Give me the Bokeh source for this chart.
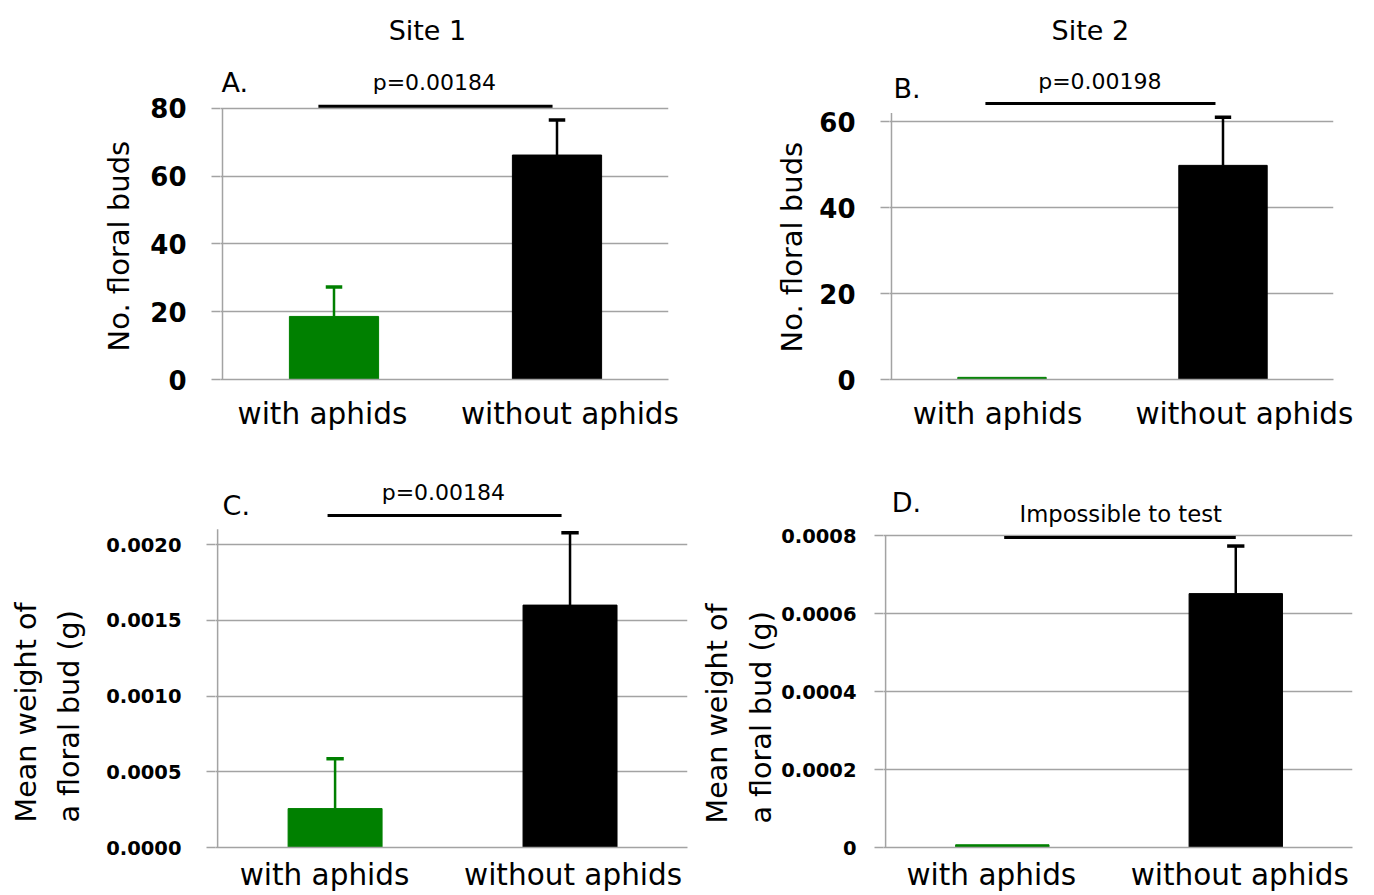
import math
from bokeh.plotting import figure
from bokeh.models import Range1d, FixedTicker, Label, Title
from bokeh.layouts import row, column
from bokeh.embed import file_html
from bokeh.resources import INLINE
from bokeh.core.properties import value

# ---------------- data ----------------
categories = ["with aphids", "without aphids"]
bar_colors = ["#008000", "#000000"]

buds_site1 = [18.6, 66.2]
buds_site1_err = [8.7, 10.3]
buds_site2 = [0.5, 49.8]
buds_site2_err = [0.0, 11.2]
weight_site1 = [0.000257, 0.00160]
weight_site1_err = [0.000329, 0.000477]
weight_site2 = [0.000007, 0.000651]
weight_site2_err = [0.0, 0.000122]

ticks_a = [0, 20, 40, 60, 80]
labels_a = ["0", "20", "40", "60", "80"]
ticks_b = [0, 20, 40, 60]
labels_b = ["0", "20", "40", "60"]
ticks_c = [0, 0.0005, 0.0010, 0.0015, 0.0020]
labels_c = ["0.0000", "0.0005", "0.0010", "0.0015", "0.0020"]
ticks_d = [0, 0.0002, 0.0004, 0.0006, 0.0008]
labels_d = ["0", "0.0002", "0.0004", "0.0006", "0.0008"]

site_titles = ["Site 1", "Site 2"]
panel_letters = ["A.", "B.", "C.", "D."]
test_texts = ["p=0.00184", "p=0.00198", "p=0.00184", "Impossible to test"]
ylabel_buds = "No. floral buds"
ylabel_weight = ["Mean weight of", "a floral bud (g)"]

FONT = "DejaVu Sans"
GRID = "#a3a3a3"


def panel(width, height, borders, x_start, y_end, vals, errs, ticks, tlabels,
          tick_size, axis_top, cat_pos, cat_standoff, tick_standoff):
    bl, br, bt, bb = borders
    p = figure(width=width, height=height, output_backend="svg",
               toolbar_location=None, tools="",
               x_range=Range1d(x_start, 1.5), y_range=Range1d(0, y_end),
               min_border_left=bl, min_border_right=br,
               min_border_top=bt, min_border_bottom=bb)
    p.outline_line_color = None
    p.background_fill_color = "white"
    p.border_fill_color = "white"
    xs = list(range(len(categories)))
    p.vbar(x=xs, top=vals, width=0.4, fill_color=bar_colors,
           line_color=bar_colors, line_width=1)
    # error bars (upper only)
    ex = [x for x, e in zip(xs, errs) if e > 0]
    ev = [v for v, e in zip(vals, errs) if e > 0]
    ee = [v + e for v, e in zip(vals, errs) if e > 0]
    ec = [c for c, e in zip(bar_colors, errs) if e > 0]
    p.segment(x0=ex, y0=ev, x1=ex, y1=ee, line_color=ec, line_width=2.5)
    cap = 0.037
    p.segment(x0=[x - cap for x in ex], y0=ee, x1=[x + cap for x in ex], y1=ee,
              line_color=ec, line_width=3.5)
    # vertical axis line
    p.segment(x0=[-0.5], y0=[0], x1=[-0.5], y1=[axis_top], line_color=GRID,
              line_width=1.5)

    p.xgrid.visible = False
    p.ygrid.grid_line_color = GRID
    p.ygrid.grid_line_width = 1.5

    xa = p.xaxis[0]
    xa.ticker = FixedTicker(ticks=cat_pos)
    xa.major_label_overrides = dict(zip(cat_pos, categories))
    xa.major_tick_line_color = None
    xa.minor_tick_line_color = None
    xa.axis_line_color = GRID
    xa.axis_line_width = 1.5
    xa.major_label_text_font = FONT
    xa.major_label_text_font_size = "29.5px"
    xa.major_label_text_color = "black"
    xa.major_label_standoff = cat_standoff

    ya = p.yaxis[0]
    ya.ticker = FixedTicker(ticks=ticks)
    ya.major_label_overrides = dict(zip(ticks, tlabels))
    ya.axis_line_color = None
    ya.major_tick_out = 9
    ya.major_tick_in = 0
    ya.major_tick_line_color = GRID
    ya.major_tick_line_width = 1.5
    ya.minor_tick_line_color = None
    ya.major_label_text_font = FONT
    ya.major_label_text_font_style = "bold"
    ya.major_label_text_font_size = tick_size
    ya.major_label_text_color = "black"
    ya.major_label_standoff = tick_standoff
    return p


def txt(p, x, y, text, size, align="center"):
    p.add_layout(Label(x=x, y=y, text=text, text_font=FONT,
                       text_font_size=size, text_color="black",
                       text_align=align, text_baseline="middle"))


def ytitle(p, text, offset, standoff, size="29px"):
    p.add_layout(Title(text=text, align="left", offset=offset,
                       text_font=FONT, text_font_size=size,
                       text_font_style="normal", text_color="black",
                       standoff=standoff), "left")


def label_fig(width, height, y_range, lines, xs, y0, size):
    # narrow companion figure that holds the two-line y-axis title;
    # it shares the panel's y range so the text lines up with its scale
    f = figure(width=width, height=height, output_backend="svg",
               toolbar_location=None, tools="",
               x_range=Range1d(0, width), y_range=y_range,
               x_axis_type=None, y_axis_type=None, min_border=0)
    f.outline_line_color = None
    f.grid.visible = False
    f.text(x=xs, y=[y0] * len(lines), text=lines, angle=math.pi / 2,
           text_align="left", text_baseline="middle",
           text_font=value(FONT), text_font_size=value(size),
           text_color="black")
    return f


def sigline(p, x0, x1, y):
    p.segment(x0=[x0], y0=[y], x1=[x1], y1=[y], line_color="black",
              line_width=3)


# ---------- Panel A ----------
pA = panel(688, 448, (220, 20, 12, 68), -0.509, 108.24, buds_site1,
           buds_site1_err, ticks_a, labels_a, "26px", 80,
           [-0.052, 1.058], 11, 25)
txt(pA, 0.419, 102.9, site_titles[0], "27px")
txt(pA, -0.505, 87.6, panel_letters[0], "27px", align="left")
sigline(pA, -0.07, 0.98, 80.6)
txt(pA, 0.45, 87.6, test_texts[0], "22px")
ytitle(pA, ylabel_buds, 28, 24)

# ---------- Panel B ----------
pB = panel(684, 448, (201, 39, 12, 69), -0.509, 85.35, buds_site2,
           buds_site2_err, ticks_b, labels_b, "26px", 62,
           [-0.02, 1.097], 11, 25)
txt(pB, 0.40, 81.2, site_titles[1], "27px")
txt(pB, -0.491, 67.7, panel_letters[1], "27px", align="left")
sigline(pB, -0.075, 0.966, 64.2)
txt(pB, 0.443, 69.3, test_texts[1], "22px")
ytitle(pB, ylabel_buds, 27, 16)

# ---------- Panel C ----------
pC = panel(588, 446, (115, 1, 2, 46), -0.509, 0.0026205, weight_site1,
           weight_site1_err, ticks_c, labels_c, "19.5px", 0.0021,
           [-0.045, 1.013], 4, 25)
txt(pC, -0.479, 0.002257, panel_letters[2], "27px", align="left")
sigline(pC, -0.032, 0.964, 0.002191)
txt(pC, 0.461, 0.002343, test_texts[2], "22px")
labC = label_fig(100, 446, pC.y_range, ylabel_weight, [25.5, 68],
                 0.000165, "28.6px")

# ---------- Panel D ----------
pD = panel(594, 446, (104, 20, 2, 46), -0.509, 0.001018, weight_site2,
           weight_site2_err, ticks_d, labels_d, "19.5px", 0.0008,
           [-0.047, 1.017], 4, 18)
txt(pD, -0.474, 0.000885, panel_letters[3], "27px", align="left")
sigline(pD, 0.008, 1.0, 0.000795)
txt(pD, 0.507, 0.000856, test_texts[3], "22.7px")
labD = label_fig(90, 446, pD.y_range, ylabel_weight, [28.5, 72.5],
                 0.0000615, "28.6px")

layout = column(row(pA, pB), row(labC, pC, labD, pD))
open("out.html", "w").write(file_html(layout, INLINE))
